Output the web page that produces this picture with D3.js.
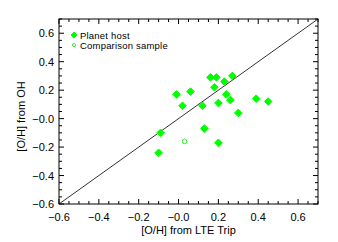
<!DOCTYPE html>
<html>
<head>
<meta charset="utf-8">
<script src="https://cdn.jsdelivr.net/npm/d3@7"></script>
<style>
  html, body { margin: 0; padding: 0; background: #fff; }
  svg text { font-family: "Liberation Sans", Arial, sans-serif; fill: #000; }
</style>
</head>
<body>
<div id="chart"></div>
<script>
// Planet host stars: [O/H] from LTE triplet (x) vs from OH (y)
const hostX = [-0.10, -0.09, -0.01, 0.02, 0.06, 0.12, 0.13, 0.16, 0.19, 0.18, 0.20, 0.20, 0.23, 0.24, 0.26, 0.27, 0.30, 0.39, 0.45];
const hostY = [-0.24, -0.10, 0.17, 0.09, 0.19, 0.09, -0.07, 0.29, 0.29, 0.22, -0.17, 0.11, 0.26, 0.17, 0.13, 0.30, 0.04, 0.14, 0.12];
// Comparison sample
const compX = [0.03];
const compY = [-0.16];

const tickValues = [-0.6, -0.4, -0.2, 0.0, 0.2, 0.4, 0.6];
const tickLabels = ['\u22120.6', '\u22120.4', '\u22120.2', '\u22120.0', '0.2', '0.4', '0.6'];
const yTickLabels = ['\u22120.6', '\u22120.4', '\u22120.2', '\u22120.0', '0.2', '0.4', '0.6'];
const minorTicks = d3.range(-0.6, 0.7001, 0.05);

const width = 338, height = 242;
const margin = { left: 59, top: 19, right: 20, bottom: 38 };

const svg = d3.select('#chart')
    .append('svg')
    .attr('width', width)
    .attr('height', height);

const x = d3.scaleLinear().domain([-0.6, 0.7]).range([margin.left, width - margin.right]);
const y = d3.scaleLinear().domain([-0.6, 0.7]).range([height - margin.bottom, margin.top]);

// Frame
svg.append('rect')
    .attr('x', x(-0.6)).attr('y', y(0.7))
    .attr('width', x(0.7) - x(-0.6))
    .attr('height', y(-0.6) - y(0.7))
    .attr('fill', 'none')
    .attr('stroke', '#000')
    .attr('stroke-width', 1);

// Ticks on all four sides
const majorLen = 5, minorLen = 3;
const ticks = svg.append('g').attr('stroke', '#000').attr('stroke-width', 1);
minorTicks.forEach((v) => {
    const isMajor = tickValues.some((t) => Math.abs(t - v) < 1e-6);
    const len = isMajor ? majorLen : minorLen;
    // bottom / top
    ticks.append('line').attr('x1', x(v)).attr('x2', x(v)).attr('y1', y(-0.6)).attr('y2', y(-0.6) - len);
    ticks.append('line').attr('x1', x(v)).attr('x2', x(v)).attr('y1', y(0.7)).attr('y2', y(0.7) + len);
    // left / right
    ticks.append('line').attr('y1', y(v)).attr('y2', y(v)).attr('x1', x(-0.6)).attr('x2', x(-0.6) + len);
    ticks.append('line').attr('y1', y(v)).attr('y2', y(v)).attr('x1', x(0.7)).attr('x2', x(0.7) - len);
});

// Tick labels
svg.append('g').selectAll('text')
    .data(tickValues)
    .enter()
    .append('text')
    .attr('x', (d) => x(d))
    .attr('y', y(-0.6) + 17)
    .attr('text-anchor', 'middle')
    .attr('font-size', 11)
    .text((d, i) => tickLabels[i]);

svg.append('g').selectAll('text')
    .data(tickValues)
    .enter()
    .append('text')
    .attr('x', x(-0.6) - 5)
    .attr('y', (d) => y(d) + 4)
    .attr('text-anchor', 'end')
    .attr('font-size', 11)
    .text((d, i) => yTickLabels[i]);

// Axis titles
svg.append('text')
    .attr('x', (x(-0.6) + x(0.7)) / 2)
    .attr('y', y(-0.6) + 30)
    .attr('text-anchor', 'middle')
    .attr('font-size', 11)
    .text('[O/H] from LTE Trip');

svg.append('text')
    .attr('transform', `translate(25, ${(y(-0.6) + y(0.7)) / 2 + 5}) rotate(-90)`)
    .attr('text-anchor', 'middle')
    .attr('font-size', 11)
    .text('[O/H] from OH');

// One-to-one line
svg.append('line')
    .attr('x1', x(-0.6)).attr('y1', y(-0.6))
    .attr('x2', x(0.7)).attr('y2', y(0.7))
    .attr('stroke', '#000')
    .attr('stroke-width', 0.8);

const diamond = (r) => `M0,${-r}L${r},0L0,${r}L${-r},0Z`;

// Planet hosts
svg.append('g').selectAll('path')
    .data(hostX.map((v, i) => ({ x: v, y: hostY[i] })))
    .enter()
    .append('path')
    .attr('transform', (d) => `translate(${x(d.x)},${y(d.y)})`)
    .attr('d', diamond(3.8))
    .attr('fill', '#00ff00')
    .attr('stroke', '#00ff00')
    .attr('stroke-width', 1)
    .attr('stroke-linejoin', 'round');

// Comparison sample
svg.append('g').selectAll('circle')
    .data(compX.map((v, i) => ({ x: v, y: compY[i] })))
    .enter()
    .append('circle')
    .attr('cx', (d) => x(d.x))
    .attr('cy', (d) => y(d.y))
    .attr('r', 2.3)
    .attr('fill', 'none')
    .attr('stroke', '#33ee33')
    .attr('stroke-width', 1);

// Legend
const legend = svg.append('g');
legend.append('path')
    .attr('transform', 'translate(74,35)')
    .attr('d', diamond(3))
    .attr('fill', '#00ff00')
    .attr('stroke', '#00ff00')
    .attr('stroke-linejoin', 'round');
legend.append('text').attr('x', 80).attr('y', 38.5).attr('font-size', 9.5).attr('letter-spacing', 0.2).text('Planet host');
legend.append('path')
    .attr('transform', 'translate(74,45)')
    .attr('d', diamond(2))
    .attr('fill', 'none')
    .attr('stroke', '#33ee33');
legend.append('text').attr('x', 80).attr('y', 48.5).attr('font-size', 9.5).attr('letter-spacing', 0.2).text('Comparison sample');
</script>
</body>
</html>
